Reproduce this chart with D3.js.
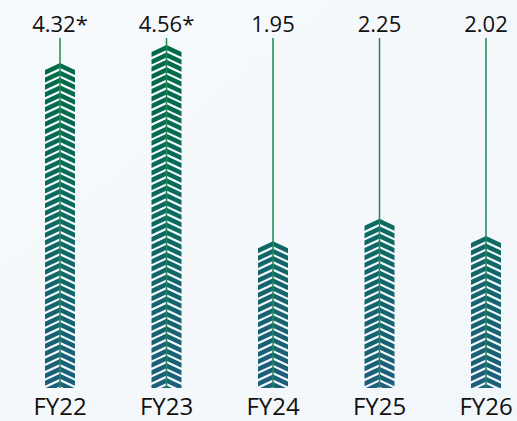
<!DOCTYPE html>
<meta charset="utf-8">
<html>
<head>
<script src="https://cdnjs.cloudflare.com/ajax/libs/d3/7.8.5/d3.min.js"></script>
<style>
  body { margin: 0; background: #f5f9fc; }
</style>
</head>
<body>
<div id="chart"></div>
<script>
// data
var years = ["FY22", "FY23", "FY24", "FY25", "FY26"];
var values = [4.32, 4.56, 1.95, 2.25, 2.02];
var valueLabels = ["4.32*", "4.56*", "1.95", "2.25", "2.02"];

var width = 517, height = 421;
var baseY = 388;

var svg = d3.select("#chart").append("svg")
  .attr("width", width)
  .attr("height", height)
  .style("font-family", "'Open Sans', sans-serif");

// light background
var defs = svg.append("defs");
var bg = defs.append("linearGradient").attr("id", "bg")
  .attr("x1", 0).attr("y1", 0).attr("x2", 1).attr("y2", 1);
bg.append("stop").attr("offset", "0%").attr("stop-color", "#f7fafc");
bg.append("stop").attr("offset", "100%").attr("stop-color", "#f2f7fb");
svg.append("rect").attr("width", width).attr("height", height).attr("fill", "url(#bg)");

var x = d3.scalePoint()
  .domain(years)
  .range([60, 486]);

var y = d3.scaleLinear()
  .domain([0, 4.56])
  .range([baseY, 45]);

// bar colour fades from green (top) to teal blue (bottom)
var grad = defs.append("linearGradient").attr("id", "barGrad")
  .attr("gradientUnits", "userSpaceOnUse")
  .attr("x1", 0).attr("y1", 45).attr("x2", 0).attr("y2", baseY);
grad.append("stop").attr("offset", "0%").attr("stop-color", "#006b45");
grad.append("stop").attr("offset", "50%").attr("stop-color", "#0c6a62");
grad.append("stop").attr("offset", "100%").attr("stop-color", "#1c5f7c");

var halfW = 15, rise = 7, thick = 5, period = 7.4;

var bars = svg.selectAll(".bar")
  .data(years.map(function(d, i){ return {year: d, value: values[i], label: valueLabels[i], i: i}; }))
  .enter().append("g")
  .attr("class", "bar");

bars.each(function(d){
  var g = d3.select(this);
  var cx = x(d.year), top = y(d.value);

  defs.append("clipPath").attr("id", "clip" + d.i)
    .append("rect")
    .attr("x", cx - halfW - 1).attr("y", top - 1)
    .attr("width", halfW * 2 + 2).attr("height", baseY - top + 1);

  var chev = [];
  for (var a = top; a - rise - thick < baseY; a += period) chev.push(a);

  g.append("g").attr("clip-path", "url(#clip" + d.i + ")")
    .selectAll("polygon")
    .data(chev)
    .enter().append("polygon")
    .attr("fill", "url(#barGrad)")
    .attr("points", function(a){
      return [
        [cx - halfW, a + rise],
        [cx, a],
        [cx + halfW, a + rise],
        [cx + halfW, a + rise + thick],
        [cx, a + thick],
        [cx - halfW, a + rise + thick]
      ].join(" ");
    });

  // leader line from label down through the bar
  g.append("line")
    .attr("x1", cx).attr("x2", cx)
    .attr("y1", 38).attr("y2", baseY)
    .attr("stroke", "#1f8a55")
    .attr("stroke-width", 1.5);

  g.append("text")
    .attr("x", cx).attr("y", 32)
    .attr("text-anchor", "middle")
    .attr("font-size", 22)
    .attr("fill", "#111")
    .text(d.label);

  g.append("text")
    .attr("x", cx).attr("y", 415)
    .attr("text-anchor", "middle")
    .attr("font-size", 24)
    .attr("fill", "#111")
    .text(d.year);
});
</script>
</body>
</html>
